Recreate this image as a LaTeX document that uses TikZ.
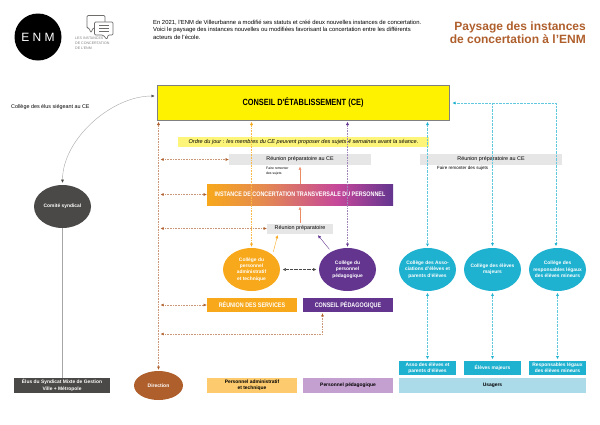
\documentclass[tikz,border=0pt]{standalone}
\usepackage{fontspec}
\setmainfont{Liberation Sans}
\newfontfamily\condfont[FakeStretch=0.82]{Liberation Sans}
\usetikzlibrary{arrows.meta,calc,positioning,shapes.geometric}
\definecolor{ceyellow}{HTML}{FFF200}
\definecolor{paleyellow}{HTML}{FDF47A}
\definecolor{prepgrey}{HTML}{E6E6E6}
\definecolor{adminorange}{HTML}{F7A81B}
\definecolor{paleorange}{HTML}{FDCB6E}
\definecolor{pedpurple}{HTML}{63358F}
\definecolor{palepurple}{HTML}{C3A0CF}
\definecolor{userblue}{HTML}{1FB1D0}
\definecolor{paleblue}{HTML}{ABDAE8}
\definecolor{dirbrown}{HTML}{AF5F2C}
\definecolor{darkgrey}{HTML}{4A4947}
\definecolor{salmon}{HTML}{EB8A63}
\definecolor{midpink}{HTML}{C5479A}
\definecolor{midsalmon}{HTML}{E58A50}
\pgfdeclarehorizontalshading{instshade}{100bp}{color(0bp)=(adminorange); color(25bp)=(adminorange); color(40bp)=(midsalmon); color(60bp)=(midpink); color(75bp)=(pedpurple); color(100bp)=(pedpurple)}

\begin{document}
\begin{tikzpicture}[
    x=1pt,y=-1pt,
    >={Latex[length=3.2pt,width=3pt]},
    band/.style={rectangle,inner sep=0pt,minimum height=#1},
    band/.default=14pt,
    prepbox/.style={band=11pt,fill=prepgrey,font=\fontsize{5.4}{6.4}\selectfont},
    capsbox/.style={band=14pt,font=\condfont\bfseries\fontsize{6.6}{7.4}\selectfont,text=white},
    whitebox/.style={band=14pt,align=center,text=white,font=\bfseries\fontsize{4.9}{6.4}\selectfont},
    blackbox/.style={band=15pt,align=center,font=\bfseries\fontsize{4.9}{6.4}\selectfont},
    college/.style={ellipse,inner sep=-9pt,minimum width=57pt,minimum height=43pt,align=center,
      text=white,font=\bfseries\fontsize{4.9}{6.4}\selectfont},
    note/.style={inner sep=0pt,align=left,font=\fontsize{4.5}{5.6}\selectfont},
    brownlink/.style={{Latex[length=3.2pt,width=3pt,dirbrown]}-{Latex[length=3.2pt,width=3pt,dirbrown]},dirbrown!65,line width=.5pt,dash pattern=on .8pt off .8pt},
    orangelink/.style={{Latex[length=3.2pt,width=3pt,adminorange]}-{Latex[length=3.2pt,width=3pt,adminorange]},adminorange!80,line width=.5pt,dash pattern=on .8pt off .8pt},
    purplelink/.style={{Latex[length=3.2pt,width=3pt,pedpurple]}-{Latex[length=3.2pt,width=3pt,pedpurple]},pedpurple!60,line width=.5pt,dash pattern=on .8pt off .8pt},
    bluelink/.style={{Latex[length=3.2pt,width=3pt,userblue]}-{Latex[length=3.2pt,width=3pt,userblue]},userblue!70,line width=.6pt,dash pattern=on .8pt off .6pt},
    uplink/.style={->,salmon,line width=.4pt}
  ]
  \useasboundingbox (0,0) rectangle (600,424);

  \node[circle,fill=black,text=white,minimum size=47pt,inner sep=0pt,font=\fontsize{12}{12}\selectfont] (logo) at (38,37) {E N M};
  \node[inner sep=0pt,align=left,text=gray,font=\fontsize{3.6}{5}\selectfont,anchor=north west] (logotext) at (75,36.5) {LES INSTANCES\\DE CONCERTATION\\DE L'ENM};
  \draw[darkgrey!80,line width=.7pt,rounded corners=1.2pt,fill=white] (87,15.5) -- (105,15.5) -- (105,28) -- (93,28) -- (91,33) -- (89,28) -- (87,28) -- cycle;
  \draw[darkgrey!80,line width=.7pt,rounded corners=1.2pt,fill=white] (94.5,22) -- (113,22) -- (113,35) -- (108,35) -- (107,39.5) -- (103,35) -- (94.5,35) -- cycle;
  \foreach \liney in {25.5,28.5,31.5}
    \draw[darkgrey!80,line width=.5pt] (99,\liney) -- (109,\liney);
  \node[inner sep=0pt,align=left,anchor=north west,font=\fontsize{5.86}{7.4}\selectfont] (intro) at (153,20) {En 2021, l'ENM de Villeurbanne a modifié ses statuts et créé deux nouvelles instances de concertation.\\Voici le paysage des instances nouvelles ou modifiées favorisant la concertation entre les différents\\acteurs de l'école.};
  \node[inner sep=0pt,align=right,anchor=north east,text=dirbrown,font=\bfseries\fontsize{12}{12.2}\selectfont] (title) at (586,22) {Paysage des instances\\de concertation à l'ENM};

  \node[band=35pt,minimum width=292pt,fill=ceyellow,draw=gray,line width=.6pt,font=\condfont\bfseries\fontsize{9}{10}\selectfont] (ce) at (303,102.5) {CONSEIL D'ÉTABLISSEMENT (CE)};
  \node[band=10pt,minimum width=251pt,fill=paleyellow,font=\itshape\fontsize{5.55}{6}\selectfont] (odj) at (303.5,142) {Ordre du jour : les membres du CE peuvent proposer des sujets 4 semaines avant la séance.};
  \node[prepbox,minimum width=142pt] (prepL) at (300,159.5) {Réunion préparatoire au CE};
  \node[prepbox,minimum width=142pt] (prepR) at (491,159.5) {Réunion préparatoire au CE};
  \node[note,anchor=north west,font=\fontsize{3.4}{5.2}\selectfont] (noteL) at (266,166.8) {Faire remonter\\des sujets};
  \node[note,anchor=north west] (noteR) at (437,166.5) {Faire remonter des sujets};
  \node[capsbox,band=21pt,minimum width=186pt,shade,shading=instshade] (inst) at (300,194.5) {INSTANCE DE CONCERTATION TRANSVERSALE DU PERSONNEL};
  \node[prepbox,band=10pt,minimum width=66pt] (prepM) at (300,228.5) {Réunion préparatoire};

  \node[college,fill=adminorange] (adm) at (251.5,269.5) {Collège du\\personnel\\administratif\\et technique};
  \node[college,fill=pedpurple] (ped) at (347.5,269.5) {Collège du\\personnel\\pédagogique};
  \node[college,fill=userblue] (asso) at (427.5,269.5) {Collège des Asso-\\ciations d'élèves et\\parents d'élèves};
  \node[college,fill=userblue] (maj) at (492.5,269.5) {Collège des élèves\\majeurs};
  \node[college,fill=userblue] (resp) at (557.5,269.5) {Collège des\\responsables légaux\\des élèves mineurs};

  \node[capsbox,minimum width=90pt,fill=adminorange] (serv) at (252,305) {RÉUNION DES SERVICES};
  \node[capsbox,minimum width=90pt,fill=pedpurple] (cped) at (348,305) {CONSEIL PÉDAGOGIQUE};

  \node[whitebox,minimum width=57pt,fill=userblue] (bsso) at (427.5,368) {Asso des élèves et\\parents d'élèves};
  \node[whitebox,minimum width=57pt,fill=userblue] (bmaj) at (492.5,368) {Élèves majeurs};
  \node[whitebox,minimum width=57pt,fill=userblue] (bresp) at (557.5,368) {Responsables légaux\\des élèves mineurs};

  \node[blackbox,minimum width=187pt,fill=paleblue] (usagers) at (492.5,385.5) {Usagers};
  \node[blackbox,minimum width=90pt,fill=paleorange] (padm) at (252,385.5) {Personnel administratif\\et technique};
  \node[blackbox,minimum width=90pt,fill=palepurple] (pped) at (348,385.5) {Personnel pédagogique};
  \node[whitebox,band=15pt,minimum width=96pt,fill=darkgrey] (elus) at (62,385.5) {Élus du Syndicat Mixte de Gestion\\Ville + Métropole};
  \node[ellipse,inner sep=0pt,minimum width=49pt,minimum height=29pt,fill=dirbrown,text=white,font=\bfseries\fontsize{5}{6}\selectfont] (dir) at (158.5,385.5) {Direction};
  \node[ellipse,inner sep=0pt,minimum width=57pt,minimum height=43pt,fill=darkgrey,text=white,font=\bfseries\fontsize{4.9}{6}\selectfont] (syndic) at (62.5,206.5) {Comité syndical};
  \node[inner sep=0pt,anchor=west,font=\fontsize{5.4}{6}\selectfont] (eluslabel) at (11,107) {Collège des élus siégeant au CE};

  \coordinate (trunk) at (158.5,334);
  \coordinate (trunkend) at (322.5,334);
  \coordinate (blueline) at (556,103);

  \draw[brownlink,shorten <=1.5pt,shorten >=1pt] (ce.south -| dir) -- (dir);
  \draw[brownlink,shorten <=2pt] (dir |- prepL) -- (prepL.west);
  \draw[brownlink,shorten <=2pt] (dir |- inst) -- (inst.west);
  \draw[brownlink,shorten <=2pt] (dir |- prepM) -- (prepM.west);
  \draw[brownlink,shorten <=2pt] (dir |- serv) -- (serv.west);
  \draw[brownlink,shorten <=2pt,shorten >=1pt] (trunk) -- (trunkend) -- (trunkend |- cped.south);

  \draw[orangelink,shorten <=1.5pt,shorten >=1pt] (ce.south -| adm) -- (adm);
  \draw[purplelink,shorten <=1.5pt,shorten >=1pt] (ce.south -| ped) -- (ped);
  \draw[bluelink,shorten <=1.5pt,shorten >=1pt] (ce.south -| asso) -- (asso);
  \draw[bluelink,shorten <=3pt,shorten >=1.5pt] (ce.east |- blueline) -- (blueline) -- (blueline |- resp.north);
  \draw[bluelink,-{Latex[length=3.2pt,width=3pt,userblue]},shorten >=1.5pt] (blueline -| maj) -- (maj.north);

  \draw[bluelink,shorten <=1.5pt,shorten >=1.5pt] (asso) -- (bsso);
  \draw[bluelink,shorten <=1.5pt,shorten >=1.5pt] (maj) -- (bmaj);
  \draw[bluelink,shorten <=1.5pt,shorten >=1.5pt] (resp) -- (bresp);

  \draw[uplink,shorten >=1.5pt] (inst.north) -- (prepL.south);
  \draw[uplink,shorten >=1.5pt] (prepM.north) -- (inst.south);
  \draw[->,adminorange,line width=.4pt,shorten <=1pt,shorten >=1.5pt] (273,253) -- (278,0 |- prepM.south);
  \draw[->,pedpurple,line width=.4pt,shorten <=1pt,shorten >=1.5pt] (330,250) -- (317,234);
  \draw[<->,darkgrey,line width=.4pt,dash pattern=on .8pt off .5pt,shorten <=2.5pt,shorten >=2.5pt] (adm) -- (ped);
  \draw[gray!70,line width=.4pt,{Latex[length=3.2pt,width=3pt,darkgrey]}-{Latex[length=3.2pt,width=3pt,darkgrey]},shorten <=2pt,shorten >=2pt] (ce.west |- 0,96) to[out=180,in=90,looseness=.9] (syndic.north);
  \draw[gray!70,line width=.7pt] (syndic) -- (elus.north -| syndic);
\end{tikzpicture}
\end{document}
